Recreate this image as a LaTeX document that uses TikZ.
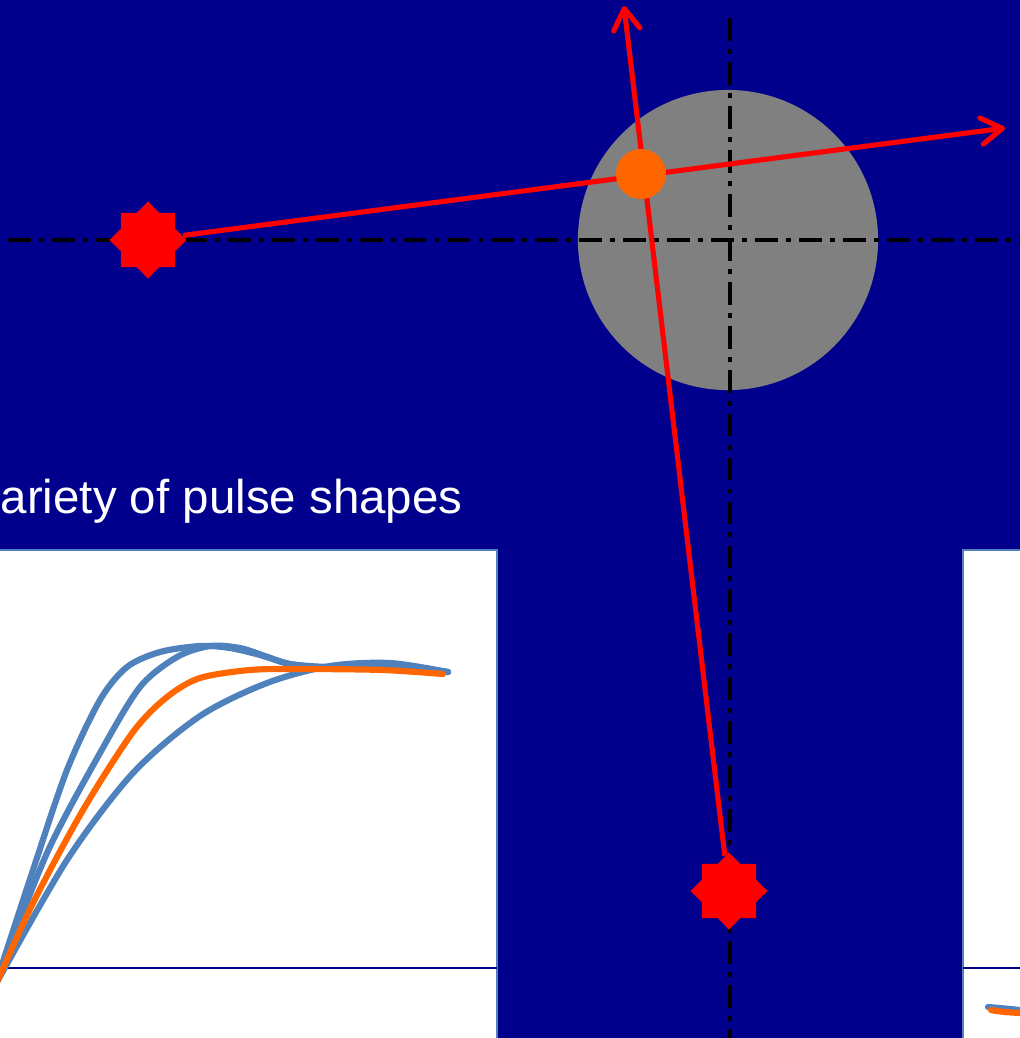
\documentclass[tikz,border=0pt]{standalone}
\usepackage{fontspec}
\setmainfont{Liberation Sans}
\usetikzlibrary{shapes.geometric,arrows.meta}

\definecolor{slidebg}{RGB}{0,0,140}
\definecolor{framebl}{RGB}{79,129,189}
\definecolor{hitorange}{RGB}{255,102,0}

\newcommand*{\wmax}{1020}
\newcommand*{\hmax}{1038}

\begin{document}
\begin{tikzpicture}
[
	x=0.01cm, y=-0.01cm,
	source/.style={star,star points=8,star point ratio=1.31,fill=red,inner sep=0pt,minimum size=0.77cm},
	hitpt/.style={circle,fill=hitorange,inner sep=0pt,minimum size=0.5cm},
	ray/.style={red,line width=1.45pt,-{Straight Barb[length=6pt,width=7.5pt,line cap=round,line join=round]}},
	centreline/.style={black,line width=1.2pt,dash pattern=on 6.5pt off 2.3pt on 1.4pt off 2.3pt},
	plotbox/.style={fill=white,draw=framebl,line width=0.8pt},
	pulse/.style={framebl,line width=1.75pt,line cap=round},
	fitpulse/.style={hitorange,line width=1.75pt,line cap=round}
]

	% slide
	\useasboundingbox (0,0) rectangle (\wmax,\hmax);
	\clip (0,0) rectangle (\wmax,\hmax);
	\fill[slidebg] (0,0) rectangle (\wmax,\hmax);

	% target and centre lines
	\node[circle,fill=gray,inner sep=0pt,minimum size=3cm] at (728,240) (disc) {};
	\draw[centreline] (8,240) -- (\wmax,240);
	\draw[centreline] (730,18) -- (730,\hmax);

	% text
	\node[anchor=base west,inner sep=0pt,text=white,font=\fontsize{13.5pt}{16pt}\selectfont] at (0,513) (caption) {ariety of pulse shapes};

	% plots
	\draw[plotbox] (-5,550) rectangle (497,1045);
	\draw[plotbox] (963,550) rectangle (1030,1045);
	\draw[slidebg,line width=0.6pt] (0,968) -- (497,968);
	\draw[slidebg,line width=0.6pt] (963,968) -- (\wmax,968);

	\draw[pulse] plot[smooth] coordinates {(-3,980) (33,870) (67,770) (100,700) (127,667) (160,652) (200,646) (230,648) (260,655) (290,664) (330,668) (380,667) (448,672)};
	\draw[pulse] plot[smooth] coordinates {(-3,980) (47,853) (100,753) (140,687) (177,657) (210,646) (240,648) (265,656) (290,664) (330,667) (380,666) (448,672)};
	\draw[pulse] plot[smooth] coordinates {(-3,982) (67,860) (133,773) (200,716) (267,683) (330,666) (390,663) (448,672)};
	\draw[fitpulse] plot[smooth] coordinates {(-3,982) (33,903) (83,810) (133,732) (167,697) (200,678) (250,670) (300,669) (383,670) (443,674)};

	\draw[pulse] (988,1007) .. controls (1000,1008) .. (\wmax,1010);
	\draw[fitpulse] (991,1010) .. controls (1003,1012) .. (\wmax,1013);

	% rays
	\node[source] at (148,240) (src) {};
	\node[source] at (729,891) (det) {};
	\coordinate (tipa) at (1005,128);
	\coordinate (tipb) at (624,6);

	\draw[ray] (src) -- (tipa);
	\draw[ray] (det) -- (tipb);

	\node[hitpt] at (641,174) (hit) {};

\end{tikzpicture}
\end{document}
